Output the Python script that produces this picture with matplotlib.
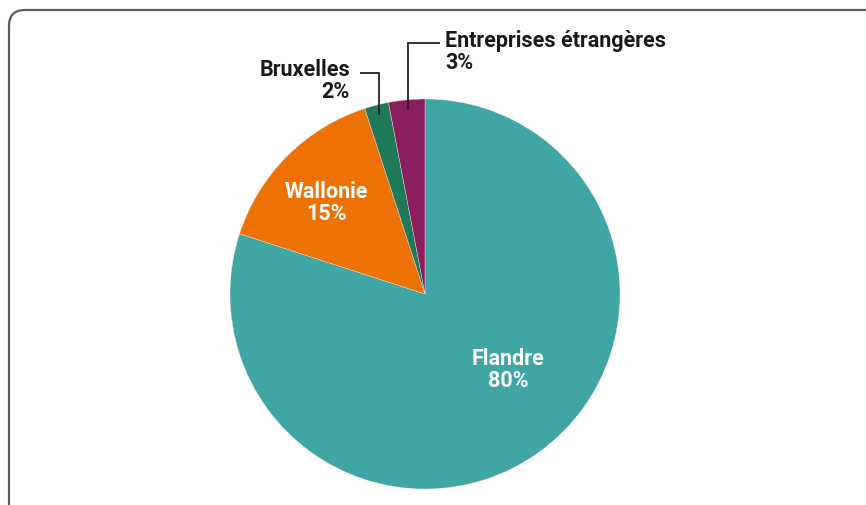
import numpy as np
import matplotlib
matplotlib.use("Agg")
import matplotlib.pyplot as plt
from matplotlib.patches import FancyBboxPatch
from matplotlib import font_manager

# Data
regions = ["Flandre", "Wallonie", "Bruxelles", "Entreprises étrangères"]
shares = [80, 15, 2, 3]
colors = ["#40a6a3", "#ee7203", "#1f7a5a", "#8a1f5e"]

names = {f.name for f in font_manager.fontManager.ttflist}
family = ["Liberation Sans Narrow", "DejaVu Sans"] if "Liberation Sans Narrow" in names else ["Roboto", "DejaVu Sans"]
plt.rcParams["font.family"] = family

W, H = 866, 506
fig = plt.figure(figsize=(W / 100, H / 100), dpi=100)
ax = fig.add_axes([0, 0, 1, 1])

# rounded frame, cut off at right and bottom
frame = FancyBboxPatch((9, -40), W + 40, H - 11 + 40,
                       boxstyle="round,pad=0,rounding_size=16",
                       fill=False, edgecolor="#5f5a5a", linewidth=1.6)
ax.add_patch(frame)

cx, cy, r = 425, H - 295, 195
wedges, _ = ax.pie(shares, colors=colors, startangle=90, counterclock=False,
                   center=(cx, cy), radius=r, frame=True,
                   wedgeprops=dict(edgecolor="#f4e8ee", linewidth=0.25))
ax.set_xlim(0, W)
ax.set_ylim(0, H)
ax.set_aspect("equal")
ax.axis("off")

fs = 15.5
# inner labels
ax.text(508, H - 370, f"{regions[0]}\n{shares[0]}%", color="white", fontsize=fs,
        fontweight="bold", ha="center", va="center", linespacing=1.05)
ax.text(326, H - 203, f"{regions[1]}\n{shares[1]}%", color="white", fontsize=fs,
        fontweight="bold", ha="center", va="center", linespacing=1.05)

# outer labels with leader lines
def leader(wedge, r_in, y_top, x_end):
    mid = np.deg2rad((wedge.theta1 + wedge.theta2) / 2)
    x = cx + r_in * np.cos(mid)
    y = cy + r_in * np.sin(mid)
    ax.plot([x, x, x_end], [y, y_top, y_top], color="#222222", lw=1.3,
            solid_capstyle="butt", solid_joinstyle="miter")
    return x

leader(wedges[2], 185, H - 74, 360)
ax.text(350, H - 81, f"{regions[2]}\n{shares[2]}%", color="#1a1a1a", fontsize=fs,
        fontweight="bold", ha="right", va="center", linespacing=1.05)

leader(wedges[3], 185, H - 44, 440)
ax.text(445, H - 52, f"{regions[3]}\n{shares[3]}%", color="#1a1a1a", fontsize=fs,
        fontweight="bold", ha="left", va="center", linespacing=1.05)

fig.savefig("out.png", dpi=100)
